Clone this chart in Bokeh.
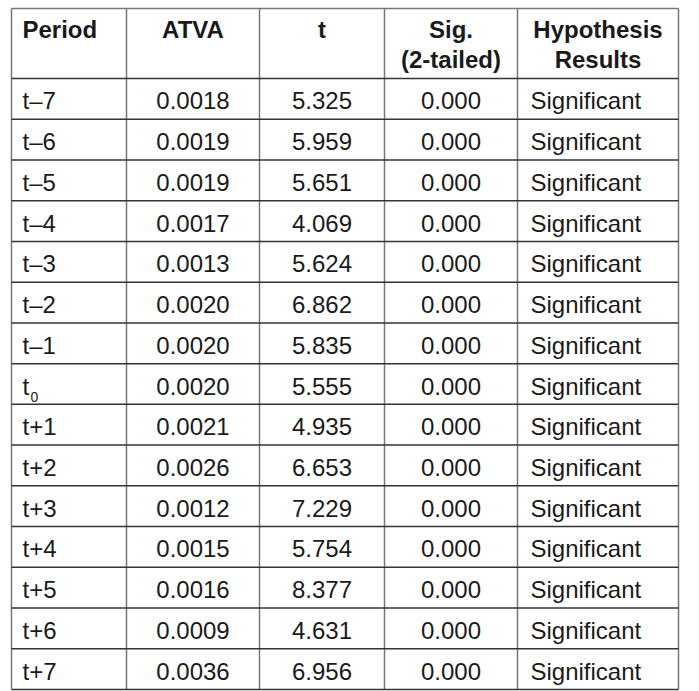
from bokeh.plotting import figure
from bokeh.models import ColumnDataSource
from bokeh.core.properties import value
from bokeh.embed import file_html
from bokeh.resources import INLINE

# ---- data ----
headers = [["Period"], ["ATVA"], ["t"], ["Sig.", "(2-tailed)"], ["Hypothesis", "Results"]]
period_base = ["t–7", "t–6", "t–5", "t–4", "t–3", "t–2", "t–1", "t", "t+1", "t+2", "t+3", "t+4", "t+5", "t+6", "t+7"]
period_sub = ["", "", "", "", "", "", "", "0", "", "", "", "", "", "", ""]
atva = ["0.0018", "0.0019", "0.0019", "0.0017", "0.0013", "0.0020", "0.0020", "0.0020",
        "0.0021", "0.0026", "0.0012", "0.0015", "0.0016", "0.0009", "0.0036"]
tval = ["5.325", "5.959", "5.651", "4.069", "5.624", "6.862", "5.835", "5.555",
        "4.935", "6.653", "7.229", "5.754", "8.377", "4.631", "6.956"]
sig = ["0.000"] * 15
hyp = ["Significant"] * 15

# ---- layout ----
W, H = 699, 691
col_edges = [11, 126, 259, 384, 517, 678]
top = 8
head_bottom = 78
bottom = 689
n = len(period_base)
row_h = (bottom - head_bottom) / n
FONT = value("Liberation Sans")
FS = "24px"
HLINE = "#333333"
VLINE = "#777777"
TXT = "#1a1a1a"

p = figure(width=W, height=H, x_range=(0, W), y_range=(H, 0),
           output_backend="svg", toolbar_location=None, min_border=0)
p.axis.visible = False
p.grid.visible = False
p.outline_line_color = None
p.background_fill_color = "white"
p.border_fill_color = "white"

# vertical lines
p.segment(x0=col_edges, y0=[top] * len(col_edges), x1=col_edges, y1=[bottom] * len(col_edges),
          line_color=VLINE, line_width=1.5)
# horizontal lines
hlines = [head_bottom + i * row_h for i in range(n + 1)]
p.segment(x0=[col_edges[0]] * len(hlines), y0=hlines, x1=[col_edges[-1]] * len(hlines), y1=hlines,
          line_color=HLINE, line_width=1.5)
p.segment(x0=[col_edges[0]], y0=[top], x1=[col_edges[-1]], y1=[top], line_color=VLINE, line_width=1.5)

# header text
hx, hy, ht, ha = [], [], [], []
line_y = [29, 59]
for ci, lines in enumerate(headers):
    for li, t in enumerate(lines):
        if ci == 0:
            hx.append(col_edges[0] + 11); ha.append("left")
        else:
            hx.append((col_edges[ci] + col_edges[ci + 1]) / 2); ha.append("center")
        hy.append(line_y[li]); ht.append(t)
p.text(x=hx, y=hy, text=ht, text_align=ha, text_baseline="middle",
       text_font=FONT, text_font_size=FS, text_font_style="bold", text_color=TXT)

# body text
rows_y = [head_bottom + (i + 0.5) * row_h + 2 for i in range(n)]
cx = [(col_edges[i] + col_edges[i + 1]) / 2 for i in range(5)]
src = ColumnDataSource(dict(y=rows_y, per=period_base, atva=atva, t=tval, sig=sig, hyp=hyp))
common = dict(source=src, text_baseline="middle", text_font=FONT, text_font_size=FS, text_color=TXT)
p.text(x=col_edges[0] + 11, y="y", text="per", text_align="left", **common)
p.text(x=cx[1], y="y", text="atva", text_align="center", **common)
p.text(x=cx[2], y="y", text="t", text_align="center", **common)
p.text(x=cx[3], y="y", text="sig", text_align="center", **common)
p.text(x=col_edges[4] + 13, y="y", text="hyp", text_align="left", **common)

# subscripts
sx, sy, st = [], [], []
for i, s in enumerate(period_sub):
    if s:
        sx.append(col_edges[0] + 19); sy.append(rows_y[i] + 10.5); st.append(s)
p.text(x=sx, y=sy, text=st, text_align="left", text_baseline="middle",
       text_font=FONT, text_font_size="14px", text_color=TXT)

open("out.html", "w").write(file_html(p, INLINE))
